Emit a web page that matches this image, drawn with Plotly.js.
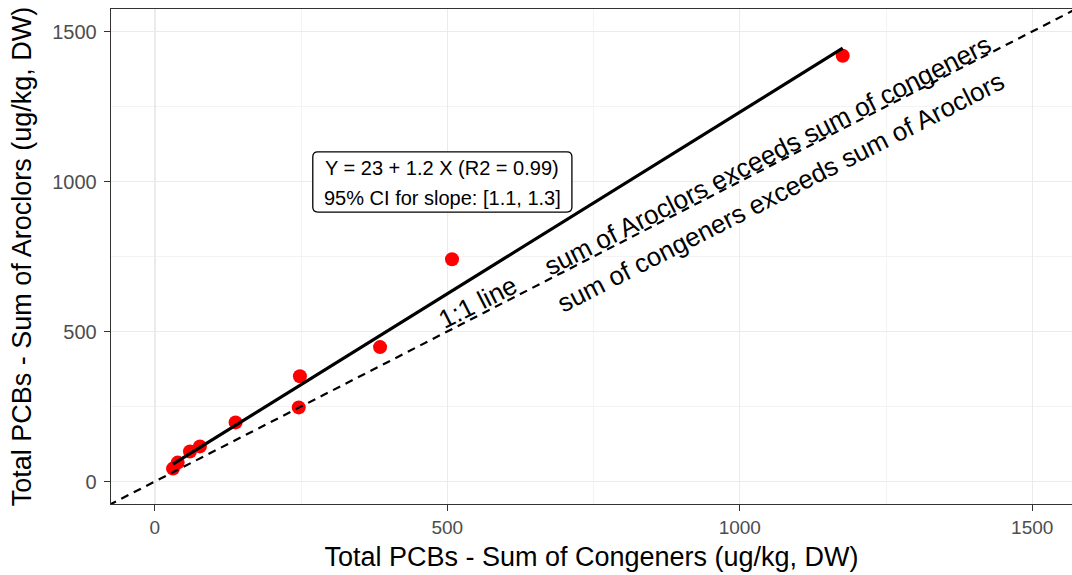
<!DOCTYPE html>
<html>
<head>
<meta charset="utf-8">
<script src="https://cdn.plot.ly/plotly-3.0.1.min.js"></script>
<style>html,body{margin:0;padding:0;background:#fff;}#chart{width:1072px;height:575px;}</style>
</head>
<body>
<div id="chart"></div>
<script>
// Data
const congeners = [31, 39, 60, 77, 138, 246, 248, 385, 508, 1176];   // Total PCBs - Sum of Congeners
const aroclors  = [43, 63, 100, 117, 197, 247, 351, 448, 741, 1419];  // Total PCBs - Sum of Aroclors
const tickValues = [0, 500, 1000, 1500];
const minorTickValues = [250, 750, 1250];
const oneToOne = [-100, 1700];
const fitLabel = ["Y = 23 + 1.2 X (R2 = 0.99)", "95% CI for slope: [1.1, 1.3]"];
const regionLabels = ["sum of Aroclors exceeds sum of congeners", "sum of congeners exceeds sum of Aroclors"];
const lineLabel = "1:1 line";

// Least squares fit (as geom_smooth(method = "lm"))
const n = congeners.length;
const mx = congeners.reduce((a, b) => a + b, 0) / n;
const my = aroclors.reduce((a, b) => a + b, 0) / n;
let sxy = 0, sxx = 0;
for (let i = 0; i < n; i++) { sxy += (congeners[i] - mx) * (aroclors[i] - my); sxx += (congeners[i] - mx) ** 2; }
const slope = sxy / sxx, intercept = my - slope * mx;
const fitX = [Math.min(...congeners), Math.max(...congeners)];
const fitY = fitX.map(v => intercept + slope * v);

const FONT = "Liberation Sans, Arial, sans-serif";

const traces = [
  { x: congeners, y: aroclors, mode: "markers", type: "scatter",
    marker: { color: "#FF0000", size: 14 }, hoverinfo: "x+y" },
  { x: fitX, y: fitY, mode: "lines", type: "scatter",
    line: { color: "#000000", width: 3.2 }, hoverinfo: "skip" },
  { x: oneToOne, y: oneToOne, mode: "lines", type: "scatter",
    line: { color: "#000000", width: 2.2, dash: "8px,6px" }, hoverinfo: "skip" }
];

// annotation box geometry (data units)
const bx0 = 270, bx1 = 713, by0 = 898, by1 = 1099, rx = 8.5, ry = 16.7;
const boxPath = `M ${bx0+rx},${by1} L ${bx1-rx},${by1} Q ${bx1},${by1} ${bx1},${by1-ry} L ${bx1},${by0+ry} Q ${bx1},${by0} ${bx1-rx},${by0} L ${bx0+rx},${by0} Q ${bx0},${by0} ${bx0},${by0+ry} L ${bx0},${by1-ry} Q ${bx0},${by1} ${bx0+rx},${by1} Z`;

const axisCommon = {
  tickvals: tickValues,
  showgrid: true, gridcolor: "#EBEBEB", gridwidth: 1.4,
  minor: { tickvals: minorTickValues, showgrid: true, gridcolor: "#F2F2F2", gridwidth: 0.9, ticks: "" },
  zeroline: false,
  showline: true, linecolor: "#333333", linewidth: 1.3,
  ticks: "outside", ticklen: 6, tickwidth: 1.2, tickcolor: "#333333",
  tickfont: { family: FONT, size: 19, color: "#4D4D4D" }
};

const layout = {
  width: 1072, height: 575,
  margin: { l: 111, r: 0, t: 9, b: 71 },
  paper_bgcolor: "#FFFFFF", plot_bgcolor: "#FFFFFF",
  showlegend: false,
  font: { family: FONT, color: "#000000" },
  xaxis: Object.assign({}, axisCommon, {
    range: [-75, 1568], mirror: true,
    title: { text: "Total PCBs - Sum of Congeners (ug/kg, DW)", font: { family: FONT, size: 27, color: "#000000" }, standoff: 10 }
  }),
  yaxis: Object.assign({}, axisCommon, {
    range: [-75, 1575], ticklabelstandoff: 3,
    tickfont: { family: FONT, size: 20, color: "#4D4D4D" },
    title: { text: "Total PCBs - Sum of Aroclors (ug/kg, DW)", font: { family: FONT, size: 27, color: "#000000" }, standoff: 12 }
  }),
  shapes: [
    { type: "path", path: boxPath, xref: "x", yref: "y", fillcolor: "#FFFFFF", line: { color: "#000000", width: 1.3 }, layer: "above" }
  ],
  annotations: [
    { x: 491, y: 1045, xref: "x", yref: "y", text: fitLabel[0], showarrow: false, font: { family: FONT, size: 20, color: "#000000" } },
    { x: 491, y: 945, xref: "x", yref: "y", text: fitLabel[1], showarrow: false, font: { family: FONT, size: 20, color: "#000000" } },
    { x: 1048, y: 1088, xref: "x", yref: "y", text: regionLabels[0], showarrow: false, textangle: -27, font: { family: FONT, size: 26, color: "#000000" } },
    { x: 1070, y: 966, xref: "x", yref: "y", text: regionLabels[1], showarrow: false, textangle: -27, font: { family: FONT, size: 26, color: "#000000" } },
    { x: 553, y: 597, xref: "x", yref: "y", text: lineLabel, showarrow: false, textangle: -27, font: { family: FONT, size: 26, color: "#000000" } }
  ]
};

Plotly.newPlot("chart", traces, layout, { staticPlot: true, displayModeBar: false });
</script>
</body>
</html>
